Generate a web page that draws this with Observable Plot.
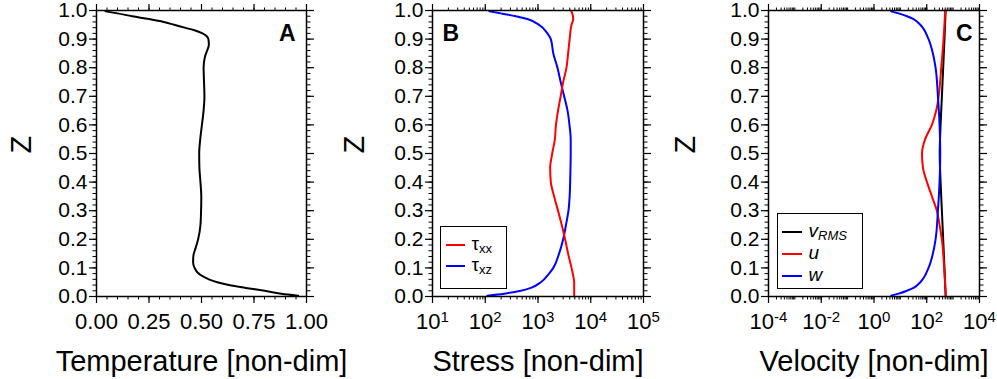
<!DOCTYPE html>
<html>
<head>
<meta charset="utf-8">
<script src="https://cdn.jsdelivr.net/npm/d3@7"></script>
<script src="https://cdn.jsdelivr.net/npm/@observablehq/plot@0.6"></script>
<style>
  body { margin: 0; background: #fff; overflow: hidden; }
  #wrap { position: relative; width: 997px; height: 379px; font-family: "Liberation Sans", Arial, Helvetica, sans-serif; }
  .panel { position: absolute; top: 0; }
  .legend { position: absolute; box-sizing: border-box; border: 1.5px solid #000; background: #fff; }
  .lt { position: absolute; font-size: 19px; line-height: 18px; height: 18px; white-space: nowrap; }
  .lt sub { font-size: 13px; vertical-align: -3px; line-height: 0; }
</style>
</head>
<body>
<div id="wrap"></div>
<script>
// ---------------- data ----------------
// Panel A: temperature profile
const zTemp = [0.003, 0.01, 0.02, 0.03, 0.04, 0.05, 0.06, 0.07, 0.085, 0.10, 0.12, 0.14, 0.17, 0.20, 0.25, 0.30, 0.35, 0.40, 0.45, 0.50, 0.55, 0.60, 0.65, 0.70, 0.75, 0.80, 0.84, 0.86, 0.88, 0.90, 0.91, 0.92, 0.93, 0.94, 0.95, 0.96, 0.97, 0.98, 0.99, 0.997];
const temperature = [0.96, 0.88, 0.80, 0.71, 0.63, 0.575, 0.535, 0.507, 0.48, 0.467, 0.46, 0.461, 0.472, 0.484, 0.495, 0.498, 0.499, 0.495, 0.49, 0.489, 0.494, 0.502, 0.51, 0.514, 0.512, 0.51, 0.517, 0.527, 0.535, 0.533, 0.525, 0.505, 0.47, 0.42, 0.37, 0.32, 0.25, 0.17, 0.10, 0.043];

// Panel B: stress
const zTauXX = [0.0, 0.05, 0.07, 0.10, 0.15, 0.20, 0.25, 0.30, 0.35, 0.40, 0.45, 0.50, 0.55, 0.60, 0.65, 0.70, 0.75, 0.80, 0.85, 0.90, 0.95, 0.97, 0.99, 1.0];
const tauXX = [4850, 4850, 4680, 4320, 3720, 3270, 2820, 2400, 2020, 1750, 1700, 1860, 2090, 2190, 2400, 2690, 3000, 3470, 3720, 3980, 4320, 4650, 4470, 4170];
const zTauXZ = [0.003, 0.01, 0.02, 0.03, 0.05, 0.08, 0.10, 0.15, 0.20, 0.25, 0.30, 0.35, 0.40, 0.45, 0.50, 0.55, 0.60, 0.65, 0.70, 0.75, 0.80, 0.85, 0.90, 0.92, 0.95, 0.97, 0.98, 0.99, 0.997];
const tauXZ = [110, 229, 473, 731, 1130, 1620, 1950, 2510, 3000, 3390, 3780, 3980, 4070, 4130, 4170, 4170, 3950, 3630, 3130, 2690, 2340, 1950, 1750, 1510, 1050, 630, 380, 197, 120];

// Panel C: velocity
const zVrms = [0.0, 0.1, 0.2, 0.3, 0.4, 0.5, 0.6, 0.7, 0.8, 0.9, 1.0];
const vRMS = [520, 470, 420, 375, 335, 310, 335, 375, 420, 470, 520];
const zU = [0.0, 0.1, 0.2, 0.25, 0.3, 0.35, 0.4, 0.45, 0.5, 0.55, 0.6, 0.65, 0.7, 0.8, 0.9, 1.0];
const uVel = [532, 457, 375, 306, 243, 157, 102, 72, 66, 87, 157, 229, 282, 355, 434, 501];
const zW = [0.003, 0.01, 0.02, 0.03, 0.05, 0.10, 0.15, 0.20, 0.30, 0.40, 0.50, 0.60, 0.70, 0.80, 0.85, 0.90, 0.95, 0.97, 0.98, 0.99, 0.997];
const wVel = [4.5, 8.65, 17.8, 31.6, 57, 117, 171, 216, 265, 306, 324, 306, 265, 216, 171, 117, 57, 31.6, 17.8, 8.65, 4.5];

// tick labels
const zMajorTicks = [0.0, 0.1, 0.2, 0.3, 0.4, 0.5, 0.6, 0.7, 0.8, 0.9, 1.0];
const tempTicks = [0.00, 0.25, 0.50, 0.75, 1.00];
const stressTicks = [1e1, 1e2, 1e3, 1e4, 1e5];
const velocityTicks = [1e-4, 1e-2, 1e0, 1e2, 1e4];
const xLabels = ["Temperature [non-dim]", "Stress [non-dim]", "Velocity [non-dim]"];
const panelLetters = ["A", "B", "C"];

// ---------------- helpers ----------------
const FONT = '"Liberation Sans", Arial, Helvetica, sans-serif';
const zip = (zs, vs) => zs.map((z, i) => ({z, v: vs[i]}));
const zMinorTicks = d3.range(0, 1.0001, 0.02);
function logMinor(e0, e1) {
  const out = [];
  for (let e = e0; e < e1; e++) for (let k = 1; k < 10; k++) out.push(k * Math.pow(10, e));
  out.push(Math.pow(10, e1));
  return out;
}
const logFmt = d => "10^" + Math.round(Math.log10(d));

function panel({left, width, marginLeft, marginRight, x, lines, xMajor, xMinor, xFormat, xLabel, letter, letterAnchor, letterDx}) {
  const blank = () => "";
  const svg = Plot.plot({
    width, height: 379,
    marginLeft, marginRight, marginTop: 10, marginBottom: 83,
    x, y: {domain: [0, 1]},
    style: {fontFamily: FONT, fontSize: "21px", color: "#000", background: "transparent", overflow: "visible"},
    marks: [
      ...lines,
      Plot.frame({stroke: "#000", strokeWidth: 1.5}),
      Plot.axisX({ticks: xMinor, anchor: "bottom", tickSize: 3.5, tickFormat: blank, label: null, strokeWidth: 1}),
      Plot.axisX({ticks: xMinor, anchor: "top", tickSize: 3.5, tickFormat: blank, label: null, strokeWidth: 1}),
      Plot.axisX({ticks: xMajor, anchor: "bottom", tickSize: 7, tickPadding: 10, tickFormat: xFormat, label: null, strokeWidth: 1.2, fontSize: 22}),
      Plot.axisX({ticks: xMajor, anchor: "top", tickSize: 7, tickFormat: blank, label: null, strokeWidth: 1.2}),
      Plot.axisY({ticks: zMinorTicks, anchor: "left", tickSize: 3.5, tickFormat: blank, label: null, strokeWidth: 1}),
      Plot.axisY({ticks: zMinorTicks, anchor: "right", tickSize: 3.5, tickFormat: blank, label: null, strokeWidth: 1}),
      Plot.axisY({ticks: zMajorTicks, anchor: "left", tickSize: 7, tickPadding: 2, tickFormat: d3.format(".1f"), label: null, strokeWidth: 1.2, fontSize: 21}),
      Plot.axisY({ticks: zMajorTicks, anchor: "right", tickSize: 7, tickFormat: blank, label: null, strokeWidth: 1.2}),
      Plot.text(["Z"], {text: d => d, frameAnchor: "left", dx: -(marginLeft - 21), rotate: -90, fontSize: 29, fill: "#000"}),
      Plot.text([xLabel], {text: d => d, frameAnchor: "bottom", lineAnchor: "bottom", dy: 74, fontSize: 29, fill: "#000"}),
      Plot.text([letter], {text: d => d, frameAnchor: letterAnchor, dx: letterDx, dy: 14, fontSize: 23, fontWeight: "bold", fill: "#000"})
    ]
  });
  // superscripts on log tick labels
  svg.querySelectorAll("text").forEach(t => {
    const m = /^10\^(-?\d+)$/.exec(t.textContent);
    if (m) {
      t.textContent = "";
      const base = document.createElementNS("http://www.w3.org/2000/svg", "tspan");
      base.textContent = "10";
      const sup = document.createElementNS("http://www.w3.org/2000/svg", "tspan");
      sup.textContent = m[1];
      sup.setAttribute("dy", "-7");
      sup.setAttribute("font-size", "15");
      t.appendChild(base); t.appendChild(sup);
    }
  });
  const div = document.createElement("div");
  div.className = "panel";
  div.style.left = left + "px";
  div.appendChild(svg);
  document.getElementById("wrap").appendChild(div);
}

const lineOpts = (stroke) => ({x: "v", y: "z", stroke, strokeWidth: 2, curve: "monotone-y"});

panel({
  left: 0, width: 333, marginLeft: 96, marginRight: 27,
  x: {domain: [0, 1]},
  lines: [Plot.line(zip(zTemp, temperature), lineOpts("#000"))],
  xMajor: tempTicks, xMinor: d3.range(0, 1.0001, 0.05), xFormat: d3.format(".2f"),
  xLabel: xLabels[0], letter: panelLetters[0], letterAnchor: "top-right", letterDx: -11
});
panel({
  left: 333, width: 333, marginLeft: 99, marginRight: 23,
  x: {type: "log", domain: [1e1, 1e5]},
  lines: [
    Plot.line(zip(zTauXZ, tauXZ), lineOpts("#0000ff")),
    Plot.line(zip(zTauXX, tauXX), lineOpts("#ff0000"))
  ],
  xMajor: stressTicks, xMinor: logMinor(1, 5), xFormat: logFmt,
  xLabel: xLabels[1], letter: panelLetters[1], letterAnchor: "top-left", letterDx: 10
});
panel({
  left: 664, width: 333, marginLeft: 104, marginRight: 18,
  x: {type: "log", domain: [1e-4, 1e4]},
  lines: [
    Plot.line(zip(zVrms, vRMS), lineOpts("#000")),
    Plot.line(zip(zU, uVel), lineOpts("#ff0000")),
    Plot.line(zip(zW, wVel), lineOpts("#0000ff"))
  ],
  xMajor: velocityTicks, xMinor: logMinor(-4, 4), xFormat: logFmt,
  xLabel: xLabels[2], letter: panelLetters[2], letterAnchor: "top-right", letterDx: -7
});

// ---------------- legends ----------------
function legend(box, rows) {
  const wrap = document.getElementById("wrap");
  const lg = document.createElement("div");
  lg.className = "legend";
  Object.assign(lg.style, {left: box.x + "px", top: box.y + "px", width: box.w + "px", height: box.h + "px"});
  rows.forEach(r => {
    const sw = document.createElement("div");
    Object.assign(sw.style, {position: "absolute", left: (r.sx - box.x - 1.5) + "px", top: (r.cy - box.y - 2.5) + "px", width: r.sw + "px", height: "2px", background: r.color});
    lg.appendChild(sw);
    const t = document.createElement("div");
    t.className = "lt";
    Object.assign(t.style, {left: (r.tx - box.x - 1.5) + "px", top: (r.cy - box.y - 11.5) + "px"});
    t.innerHTML = r.html;
    lg.appendChild(t);
  });
  wrap.appendChild(lg);
}
legend({x: 440, y: 226, w: 67, h: 63}, [
  {color: "#ff0000", sx: 446, sw: 19, cy: 245, tx: 472, html: "τ<sub>xx</sub>"},
  {color: "#0000ff", sx: 446, sw: 19, cy: 266, tx: 472, html: "τ<sub>xz</sub>"}
]);
legend({x: 777, y: 213, w: 86, h: 76}, [
  {color: "#000", sx: 782, sw: 20, cy: 232, tx: 809, html: "<i>v<sub>RMS</sub></i>"},
  {color: "#ff0000", sx: 782, sw: 20, cy: 254, tx: 809, html: "<i>u</i>"},
  {color: "#0000ff", sx: 782, sw: 20, cy: 276, tx: 809, html: "<i>w</i>"}
]);
</script>
</body>
</html>
